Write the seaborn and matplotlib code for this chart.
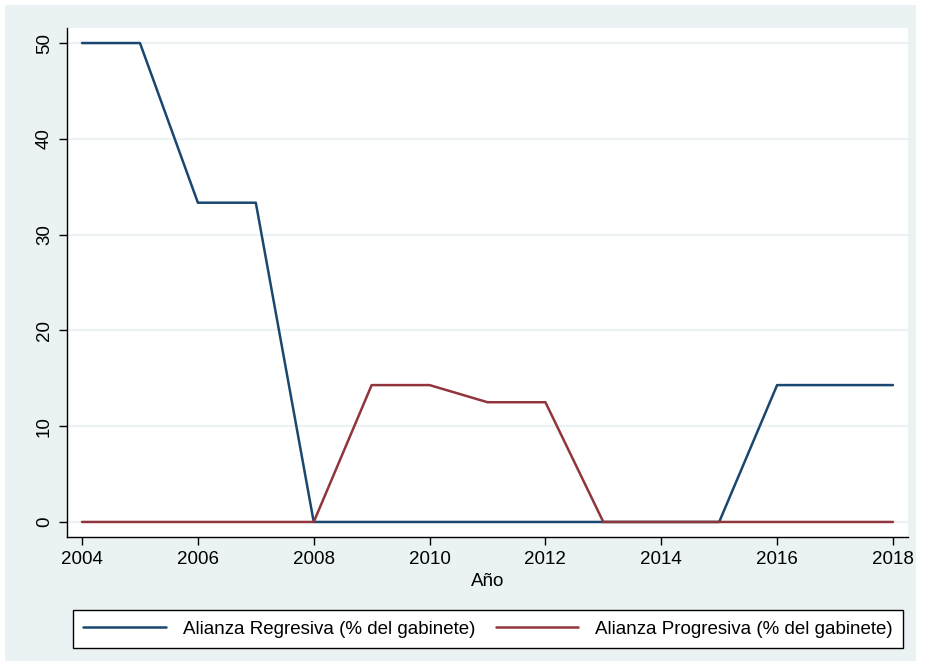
import matplotlib
matplotlib.use("Agg")
import matplotlib.pyplot as plt
import matplotlib.patches as mpatches
import seaborn as sns
import pandas as pd

years = [2004, 2005, 2006, 2007, 2008, 2009, 2010, 2011, 2012, 2013, 2014, 2015, 2016, 2017, 2018]
regresiva = [50, 50, 33.33, 33.33, 0, 0, 0, 0, 0, 0, 0, 0, 14.29, 14.29, 14.29]
progresiva = [0, 0, 0, 0, 0, 14.29, 14.29, 12.5, 12.5, 0, 0, 0, 0, 0, 0]
series_names = ["Alianza Regresiva (% del gabinete)", "Alianza Progresiva (% del gabinete)"]
x_ticks = [2004, 2006, 2008, 2010, 2012, 2014, 2016, 2018]
y_ticks = [0, 10, 20, 30, 40, 50]

df = pd.DataFrame({
    "Año": years * 2,
    "valor": regresiva + progresiva,
    "serie": [series_names[0]] * len(years) + [series_names[1]] * len(years),
})

sns.set_theme(style="white")
plt.rcParams["font.family"] = ["Liberation Sans", "DejaVu Sans"]
plt.rcParams["text.color"] = "black"
plt.rcParams["axes.labelcolor"] = "black"
plt.rcParams["xtick.color"] = "black"
plt.rcParams["ytick.color"] = "black"

W, H = 926, 664
fig = plt.figure(figsize=(W / 100, H / 100), dpi=100)
fig.patch.set_facecolor("white")
bg = "#EAF2F3"
rect = mpatches.Rectangle((5 / W, 1 - 661 / H), (916 - 5) / W, (661 - 5) / H,
                          transform=fig.transFigure, facecolor=bg, edgecolor="none", zorder=-5)
fig.add_artist(rect)

ax = fig.add_axes([67 / W, 1 - 537 / H, (908 - 67) / W, (537 - 28) / H])
ax.set_zorder(2)
ax.set_facecolor("white")

palette = {series_names[0]: "#1a476f", series_names[1]: "#90353b"}
sns.lineplot(data=df, x="Año", y="valor", hue="serie", palette=palette, ax=ax,
             linewidth=1.8, legend=False, zorder=3)

ax.set_xlim(2003.74, 2018.26)
ax.set_ylim(-1.57, 51.57)
ax.set_xticks(x_ticks)
ax.set_yticks(y_ticks)
ax.set_xticklabels([str(t) for t in x_ticks], fontsize=13.5)
ax.set_yticklabels([str(t) for t in y_ticks], fontsize=13.5, rotation=90, va="center")
ax.set_xlabel("Año", fontsize=13.5, labelpad=4)
ax.set_ylabel("")
ax.grid(axis="y", color=bg, linewidth=1.5, zorder=0)
ax.grid(axis="x", visible=False)
for s in ["top", "right"]:
    ax.spines[s].set_visible(False)
for s in ["left", "bottom"]:
    ax.spines[s].set_color("black")
    ax.spines[s].set_linewidth(1.0)
ax.tick_params(axis="both", direction="out", length=6, width=1, color="black",
               labelcolor="black", left=True, bottom=True, pad=4)

handles = [plt.Line2D([], [], color=palette[n], linewidth=1.8) for n in series_names]
leg = fig.legend(handles, series_names, ncol=2, mode="expand",
                 bbox_to_anchor=(73 / W, 1 - 648 / H, (903 - 73) / W, (648 - 604) / H),
                 loc="lower left", fontsize=13.5, frameon=True, fancybox=False,
                 handlelength=4.4, handletextpad=0.9, borderaxespad=0, borderpad=0.55,
                 columnspacing=2.0)
leg.set_zorder(3)
leg.get_frame().set_edgecolor("black")
leg.get_frame().set_linewidth(1.0)
leg.get_frame().set_facecolor("white")
leg.get_frame().set_alpha(1.0)

fig.savefig("out.png", dpi=100)
